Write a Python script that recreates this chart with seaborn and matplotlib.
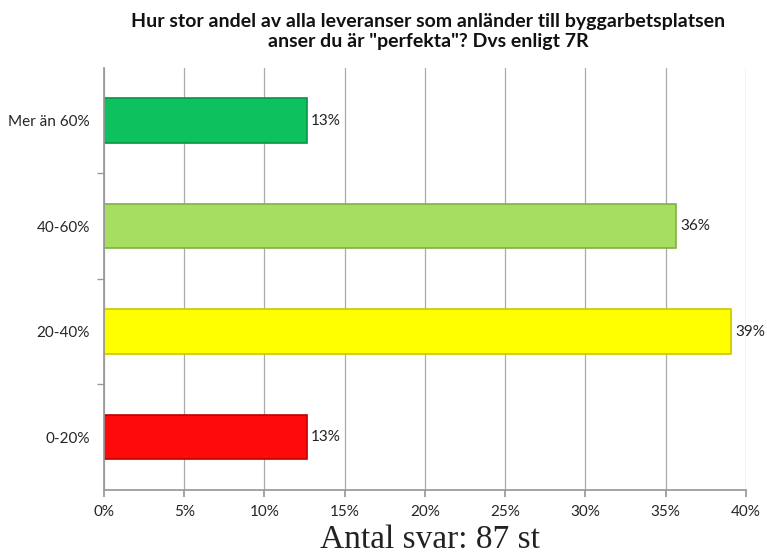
import pandas as pd
import matplotlib.pyplot as plt
import seaborn as sns
from matplotlib.ticker import PercentFormatter

sns.set_theme(style='white')
plt.rcParams['font.family'] = ['Lato', 'DejaVu Sans']

# Data: 87 answers in total
categories = ['Mer än 60%', '40-60%', '20-40%', '0-20%']
counts = [11, 31, 34, 11]
total = 87
bar_colors = ['#0CC15E', '#A6DE62', '#FFFF00', '#FF0A0A']
edge_colors = ['#089447', '#7FB045', '#C8C800', '#C00000']

shares = [c / total * 100 for c in counts]
df = pd.DataFrame({'answer': categories, 'share': shares})

fig = plt.figure(figsize=(7.67, 5.57), dpi=100)
ax = fig.add_axes([0.1356, 0.1203, 0.837, 0.758])

sns.barplot(data=df, y='answer', x='share', hue='answer', palette=bar_colors,
            order=categories, legend=False, width=0.42, ax=ax, orient='h',
            saturation=1)

for patch, ec in zip(ax.patches, edge_colors):
    patch.set_edgecolor(ec)
    patch.set_linewidth(1.2)

# labels at bar ends
for i, v in enumerate(shares):
    ax.text(v + 0.25, i, f'{v:.0f}%', va='center', ha='left', fontsize=11,
            color='#222222')

ax.set_xlim(0, 40)
ax.set_ylim(3.5, -0.5)
ax.set_xticks(range(0, 41, 5))
ax.xaxis.set_major_formatter(PercentFormatter(decimals=0))
ax.set_yticks([0.5, 1.5, 2.5], minor=True)
ax.tick_params(axis='y', which='minor', length=5, color='#999999', left=True)
ax.tick_params(axis='y', which='major', length=0, labelsize=11, pad=10)
ax.tick_params(axis='x', length=5, color='#999999', bottom=True,
               labelsize=11, pad=6)
ax.xaxis.grid(True, color='#AAAAAA', linewidth=0.9)
ax.set_axisbelow(True)
ax.set_xlabel('')
ax.set_ylabel('')

for side in ['top', 'right']:
    ax.spines[side].set_visible(False)
for side in ['left', 'bottom']:
    ax.spines[side].set_color('#999999')

fig.text(0.558, 0.944,
         'Hur stor andel av alla leveranser som anländer till byggarbetsplatsen\n'
         'anser du är "perfekta"? Dvs enligt 7R',
         ha='center', va='center', fontsize=14, fontweight='bold',
         color='#111111', linespacing=1.2)

fig.text(0.561, 0.016, 'Antal svar: 87 st', ha='center', va='baseline',
         fontsize=24, family='Liberation Serif', color='#222222')

plt.savefig('out.png', dpi=100)
